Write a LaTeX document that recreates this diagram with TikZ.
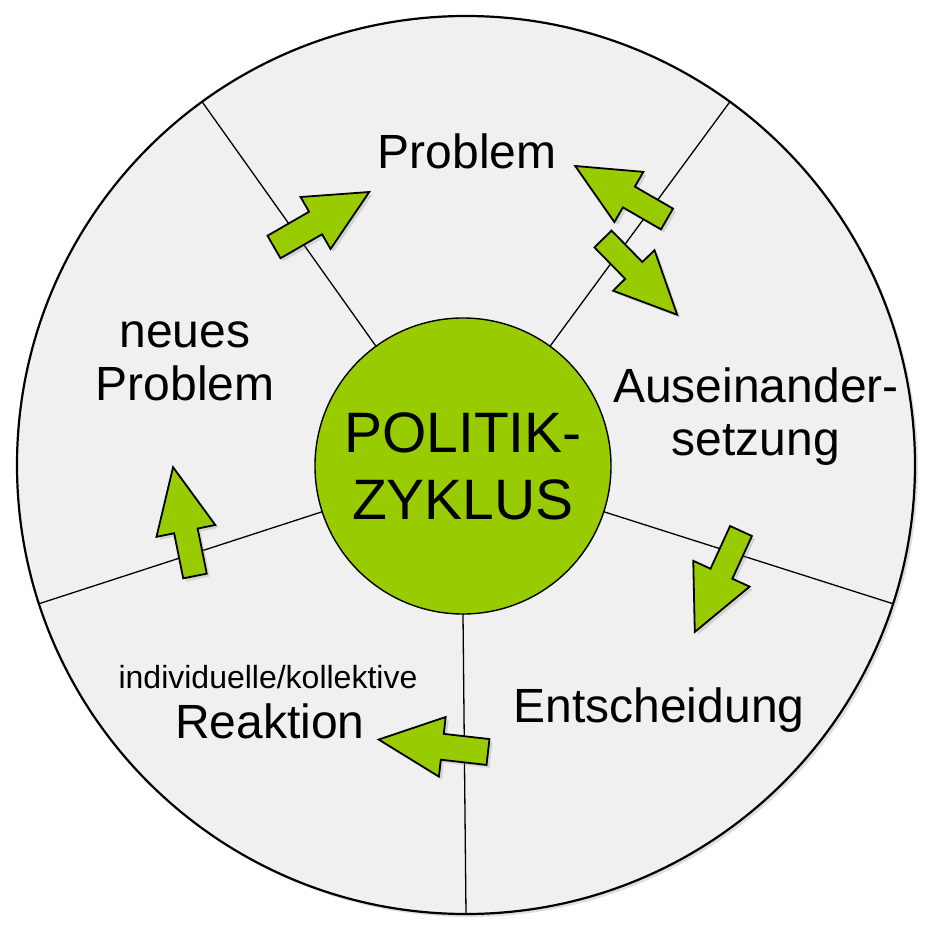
\documentclass[tikz,border=0pt]{standalone}
\usepackage{fontspec}
\setmainfont{Liberation Sans}
\usetikzlibrary{shadows}
\definecolor{politikgruen}{RGB}{153,204,0}
\definecolor{scheibengrau}{RGB}{240,240,240}

\begin{document}
\begin{tikzpicture}[x=1pt,y=1pt,
  schatten/.style={drop shadow={shadow xshift=3pt,shadow yshift=-3pt,opacity=0.25}},
  pfeil/.style={fill=politikgruen, draw=black, line width=1.8pt, line join=miter, schatten},
  gross/.style={font=\fontsize{48}{53}\selectfont, align=center, inner sep=0pt},
  klein/.style={font=\fontsize{32}{36}\selectfont, inner sep=0pt}]
\useasboundingbox (-466,-474) rectangle (464,465);

% Scheibe und Kern
\node[circle, minimum size=898pt, outer sep=0pt, fill=scheibengrau, draw=black, line width=2.2pt, schatten] (rad) at (0,0) {};
\node[circle, minimum size=296pt, outer sep=0pt, fill=politikgruen, draw=black, line width=1.4pt,
      font=\fontsize{57}{67}\selectfont, align=center, inner sep=0pt] (kern) at (-3,-1) {POLITIK-\\ZYKLUS};

% Trennlinien
\draw[line width=1.3pt] (kern.126) -- (rad.126);
\draw[line width=1.3pt] (kern.54) -- (rad.54);
\draw[line width=1.3pt] (kern.-18) -- (rad.-18);
\draw[line width=1.3pt] (kern.-90) -- (rad.-90);
\draw[line width=1.3pt] (kern.198) -- (rad.198);

% Beschriftungen
\node[gross] (problem) at (1,314) {Problem};
\node[gross] (auseinander) at (290,48) {Auseinander-\\setzung};
\node[gross] (entscheidung) at (193,-245) {Entscheidung};
\node[klein] (kollektiv) at (-198,-212) {individuelle/kollektive};
\node[gross] (reaktion) at (-196,-256) {Reaktion};
\node[gross] (neu) at (-281,104) {neues\\Problem};

% Pfeile
% neues Problem -> Problem
\draw[pfeil, shift={(-192,218)}, rotate=30] (0,-13) -- (48,-13) -- (48,-30) -- (110,0) -- (48,30) -- (48,13) -- (0,13) -- cycle;
% Auseinandersetzung -> Problem
\draw[pfeil, shift={(201,246)}, rotate=150] (0,-12) -- (44,-12) -- (44,-29) -- (106,0) -- (44,29) -- (44,12) -- (0,12) -- cycle;
% Problem -> Auseinandersetzung
\draw[pfeil, shift={(137,226)}, rotate=-45.6] (0,-12) -- (44,-12) -- (44,-29) -- (106,0) -- (44,29) -- (44,12) -- (0,12) -- cycle;
% Auseinandersetzung -> Entscheidung
\draw[pfeil, shift={(275,-66)}, rotate=-114.6] (0,-12) -- (47,-12) -- (47,-31) -- (111,0) -- (47,31) -- (47,12) -- (0,12) -- cycle;
% Entscheidung -> Reaktion
\draw[pfeil, shift={(22,-287)}, rotate=173.5] (0,-13) -- (46,-13) -- (46,-30) -- (110,0) -- (46,30) -- (46,13) -- (0,13) -- cycle;
% Reaktion -> neues Problem
\draw[pfeil, shift={(-271,-111)}, rotate=101.4] (0,-12) -- (46,-12) -- (46,-30) -- (111,0) -- (46,30) -- (46,12) -- (0,12) -- cycle;
\end{tikzpicture}
\end{document}
